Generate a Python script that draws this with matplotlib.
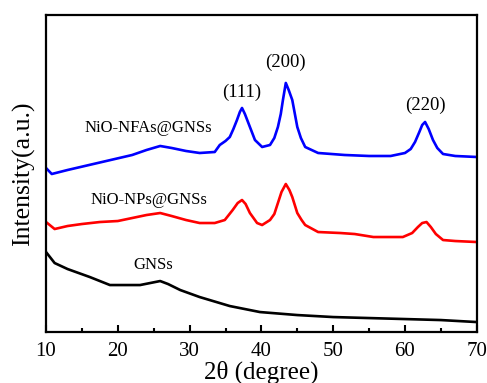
import matplotlib
matplotlib.use('Agg')
from matplotlib import pyplot as plt
from matplotlib.ticker import MultipleLocator

# 2theta (degree) and intensity (a.u.)
x_nfa = [10, 10.8, 13, 16, 19, 22, 24, 25.9, 27.5, 29.5, 31.4, 33.5, 34.2, 35.0, 35.6, 36.1, 36.6, 37.0, 37.3, 37.7,
         38.4, 39.1, 40.1, 41.2, 41.8, 42.3, 42.7, 43.0, 43.4, 43.8, 44.3, 45.0, 45.5, 46.1, 47.9, 51.6, 55, 58, 60,
         60.8, 61.4, 62.0, 62.4, 62.8, 63.3, 63.9, 64.5, 65.3, 67, 70]
y_nfa = [164, 158, 162, 167, 172, 177, 182, 186, 184, 181, 179, 180, 187, 191, 195, 203, 212, 220, 224, 218,
         205, 192, 185, 187, 194, 205, 218, 232, 249, 242, 232, 205, 194, 185, 179, 177, 176, 176, 179,
         183, 190, 200, 207, 210, 203, 192, 184, 178, 176, 175]

x_np = [10, 11.2, 13, 15, 17.5, 20, 22, 24, 25.9, 27.5, 29.5, 31.4, 33.5, 34.9, 36.0, 36.7, 37.3, 37.8, 38.4, 39.4,
        40.1, 41.2, 41.8, 42.3, 42.8, 43.4, 43.9, 44.3, 45.0, 45.6, 46.1, 47.9, 51, 53, 55.6, 58, 59.7, 61, 61.8,
        62.4, 63.0, 63.6, 64.3, 65.3, 67, 70]
y_np = [110, 103, 106, 108, 110, 111, 114, 117, 119, 116, 112, 109, 109, 112, 122, 129, 132, 128, 119, 109,
        107, 112, 118, 129, 140, 148, 142, 135, 119, 112, 107, 100, 99, 98, 95, 95, 95, 99, 105,
        109, 110, 105, 98, 92, 91, 90]

x_gns = [10, 11.2, 13, 16.1, 18.9, 21, 23.1, 25.9, 27, 28.7, 31.4, 35.6, 39.8, 45, 50, 55, 60, 65, 70]
y_gns = [80, 69, 63, 55, 47, 47, 47, 51, 48, 42, 35, 26, 20, 17, 15, 14, 13, 12, 10]

series = ['NiO-NFAs@GNSs', 'NiO-NPs@GNSs', 'GNSs']
peaks = ['(111)', '(200)', '(220)']

plt.rcParams['font.family'] = ['Liberation Serif', 'DejaVu Serif']

fig = plt.figure(figsize=(4.87, 3.83), dpi=100)
ax = fig.add_axes([0.0945, 0.133, 0.8845, 0.828])

ax.plot(x_nfa, y_nfa, color='#0000ff', lw=1.9)
ax.plot(x_np, y_np, color='#ff0000', lw=1.9)
ax.plot(x_gns, y_gns, color='black', lw=1.9)

ax.text(24.3, 204, series[0], fontsize=12, ha='center', va='center')
ax.text(24.3, 132, series[1], fontsize=12, ha='center', va='center')
ax.text(25.0, 67, series[2], fontsize=12, ha='center', va='center')

ax.text(37.3, 240, peaks[0], fontsize=13.5, ha='center', va='center')
ax.text(43.4, 270, peaks[1], fontsize=13.5, ha='center', va='center')
ax.text(62.8, 227, peaks[2], fontsize=13.5, ha='center', va='center')

ax.set_xlim(10, 70)
ax.set_ylim(0, 317)
ax.xaxis.set_major_locator(MultipleLocator(10))
ax.xaxis.set_minor_locator(MultipleLocator(5))
ax.tick_params(axis='x', which='major', direction='in', length=5, width=1.5, labelsize=15, pad=7)
ax.tick_params(axis='x', which='minor', direction='in', length=3, width=1.5)
ax.set_yticks([])
for s in ax.spines.values():
    s.set_linewidth(1.6)

ax.set_xlabel('2θ (degree)', fontsize=18, labelpad=0)
ax.set_ylabel('Intensity(a.u.)', fontsize=18.5, labelpad=8)

plt.savefig('out.png', dpi=100)
